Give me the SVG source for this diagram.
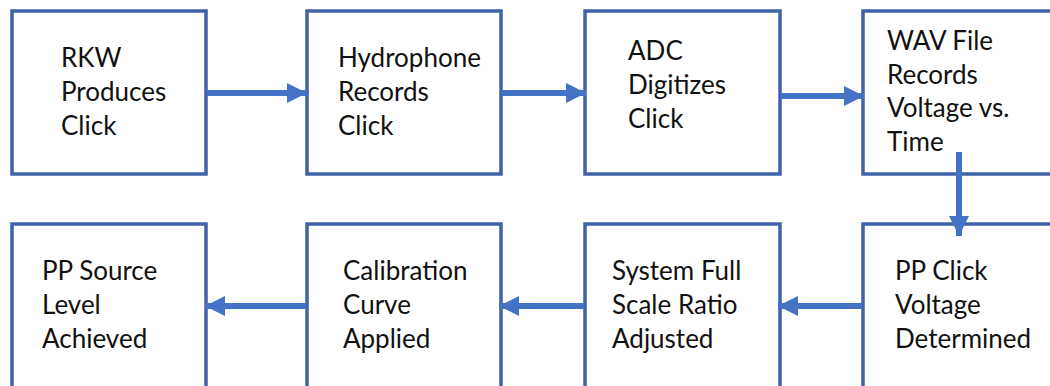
<svg xmlns="http://www.w3.org/2000/svg" width="1050" height="386" viewBox="0 0 1050 386">
<style>
.box{fill:#fff;stroke:#3f62a8;stroke-width:3.5}
.t{font-family:Lato,"Open Sans",sans-serif;font-size:26px;fill:#111}
.c{stroke:#4472c4;stroke-width:6;fill:none}
</style>
<defs>
<marker id="ah" markerUnits="userSpaceOnUse" markerWidth="22" markerHeight="22" refX="20" refY="11" orient="auto">
<path d="M0,1 L20,11 L0,21 Z" fill="#4472c4"/>
</marker>
</defs>
<rect width="1050" height="386" fill="#fff"/>
<g id="n1"><rect class="box" x="12" y="11" width="194" height="163"/>
<text class="t" x="61"><tspan x="61" y="67">RKW</tspan><tspan x="61" y="101">Produces</tspan><tspan x="61" y="135">Click</tspan></text></g>
<g id="n2"><rect class="box" x="307" y="11" width="194" height="163"/>
<text class="t"><tspan x="338" y="67">Hydrophone</tspan><tspan x="338" y="101">Records</tspan><tspan x="338" y="135">Click</tspan></text></g>
<g id="n3"><rect class="box" x="585" y="11" width="195" height="163"/>
<text class="t"><tspan x="628" y="60">ADC</tspan><tspan x="628" y="94">Digitizes</tspan><tspan x="628" y="128">Click</tspan></text></g>
<g id="n4"><rect class="box" x="863" y="11" width="200" height="163"/>
<text class="t"><tspan x="887" y="50">WAV File</tspan><tspan x="887" y="84">Records</tspan><tspan x="887" y="117">Voltage vs.</tspan><tspan x="887" y="151">Time</tspan></text></g>
<g id="n5"><rect class="box" x="863" y="224" width="200" height="180"/>
<text class="t"><tspan x="895" y="280">PP Click</tspan><tspan x="895" y="314">Voltage</tspan><tspan x="895" y="348">Determined</tspan></text></g>
<g id="n6"><rect class="box" x="585" y="224" width="195" height="180"/>
<text class="t"><tspan x="612" y="280">System Full</tspan><tspan x="612" y="314">Scale Ratio</tspan><tspan x="612" y="348">Adjusted</tspan></text></g>
<g id="n7"><rect class="box" x="307" y="224" width="194" height="180"/>
<text class="t"><tspan x="343" y="280">Calibration</tspan><tspan x="343" y="314">Curve</tspan><tspan x="343" y="348">Applied</tspan></text></g>
<g id="n8"><rect class="box" x="12" y="224" width="194" height="180"/>
<text class="t"><tspan x="42" y="280">PP Source</tspan><tspan x="42" y="314">Level</tspan><tspan x="42" y="348">Achieved</tspan></text></g>
<g id="connectors">
<line class="c" x1="207" y1="93" x2="307" y2="93" marker-end="url(#ah)"/>
<line class="c" x1="502" y1="93" x2="586" y2="93" marker-end="url(#ah)"/>
<line class="c" x1="781" y1="96" x2="864" y2="96" marker-end="url(#ah)"/>
<line class="c" x1="959" y1="152" x2="959" y2="236" marker-end="url(#ah)"/>
<line class="c" x1="862" y1="306" x2="778" y2="306" marker-end="url(#ah)"/>
<line class="c" x1="584" y1="306" x2="499" y2="306" marker-end="url(#ah)"/>
<line class="c" x1="306" y1="306" x2="205" y2="306" marker-end="url(#ah)"/>
</g>
</svg>
